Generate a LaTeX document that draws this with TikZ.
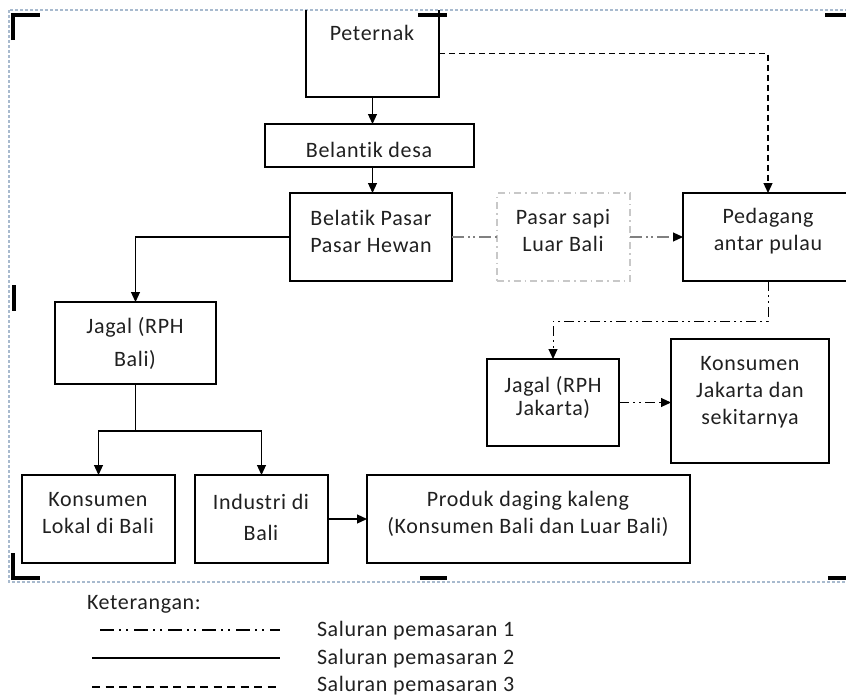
\documentclass[tikz,border=0pt]{standalone}
\usepackage{fontspec}
\setmainfont{Carlito}[LetterSpace=3, Ligatures=NoCommon]
\usetikzlibrary{arrows.meta}
\definecolor{framec}{HTML}{A8BACE}
\definecolor{greyline}{HTML}{808080}
\definecolor{lightbox}{HTML}{C8C8C8}
\definecolor{txt}{HTML}{202020}
\begin{document}
\begin{tikzpicture}[x=1pt,y=-1pt,
  every node/.style={inner sep=0pt, outer sep=0pt},
  boxnode/.style={draw, line width=1.2pt, anchor=north west},
  emptybox/.style={anchor=north west},
  lbl/.style={align=center, text=txt, font=\fontsize{22}{27}\selectfont},
  conn/.style={line width=1.2pt},
  arr/.style={conn, -{Triangle[length=10pt,width=9pt]}},
  chone/.style={dash pattern=on 10pt off 4pt on 2pt off 4pt on 2pt off 4pt},
  chthree/.style={dash pattern=on 6pt off 4pt},
  greydash/.style={draw=greyline, line width=2.4pt, dash pattern=on 12pt off 4pt on 2pt off 3pt on 2pt off 4pt},
  cornermark/.style={line width=4pt},
]
\useasboundingbox (0,0) rectangle (846,696);

% canvas frame and its corner marks
\draw[framec, line width=1.2pt, dash pattern=on 3pt off 2pt] (9,10) rectangle (849,582);
\draw[cornermark] (13,40) -- (13,15) -- (40,15);
\draw[cornermark] (418,15) -- (447,15);
\draw[cornermark] (825,15) -- (852,15);
\draw[cornermark] (14,285) -- (14,311);
\draw[cornermark] (13,553) -- (13,578) -- (40,578);
\draw[cornermark] (420,578) -- (447,578);
\draw[cornermark] (828,578) -- (852,578);

% boxes
\node[emptybox, minimum width=133pt, minimum height=87pt] (peternak) at (306,10) {};
\draw[line width=1.2pt] (peternak.north west) |- (peternak.south east) -- (peternak.north east);
\node[boxnode, minimum width=209pt, minimum height=43pt] (belantik) at (265,124) {};
\node[boxnode, minimum width=162pt, minimum height=88pt] (belatik) at (290,193) {};
\node[anchor=north west, draw=lightbox, line width=1.2pt,
      dash pattern=on 7pt off 4pt on 1.5pt off 4pt,
      minimum width=133pt, minimum height=88pt] (pasarsapi) at (497,193) {};
\node[boxnode, minimum width=170pt, minimum height=88pt] (pedagang) at (683,193) {};
\node[boxnode, minimum width=161pt, minimum height=82pt] (jagalbali) at (55,302) {};
\node[boxnode, minimum width=132pt, minimum height=87pt] (jagaljkt) at (487,359) {};
\node[boxnode, minimum width=158pt, minimum height=124pt] (konsjkt) at (671,339) {};
\node[boxnode, minimum width=153pt, minimum height=88pt] (lokal) at (22,475) {};
\node[boxnode, minimum width=133pt, minimum height=88pt] (industri) at (195,475) {};
\node[boxnode, minimum width=323pt, minimum height=88pt] (produk) at (367,475) {};

% box texts
\node[lbl] (tpeternak) at (372,33) {Peternak};
\node[lbl] (tbelantik) at (369,150) {Belantik desa};
\node[lbl] (tbelatik) at (371,231) {Belatik Pasar\\Pasar Hewan};
\node[lbl] (tpasarsapi) at (563,231) {Pasar sapi\\Luar Bali};
\node[lbl] (tpedagang) at (768,231) {Pedagang\\antar pulau};
\node[lbl] (tjagalbali) at (135,343) {Jagal (RPH\\[6pt]Bali)};
\node[lbl] (tjagaljkt) at (553,397) {Jagal (RPH\\[-4pt]Jakarta)};
\node[lbl] (tkonsjkt) at (750,392) {Konsumen\\Jakarta dan\\sekitarnya};
\node[lbl] (tlokal) at (98,513) {Konsumen\\Lokal di Bali};
\node[lbl] (tindustri) at (261,517) {Industri di\\[4pt]Bali};
\node[lbl] (tproduk) at (528,514) {Produk daging kaleng\\(Konsumen Bali dan Luar Bali)};

% channel 2 (solid)
\draw[arr] (peternak.south) -- (peternak.south |- belantik.north);
\draw[arr] (belantik.south -| peternak.south) -- (belatik.north -| peternak.south);
\draw[arr] (belatik.west) -| (jagalbali.north);
\coordinate (split) at (135.5,431);
\draw[conn] (jagalbali.south) -- (split);
\draw[arr] (split) -| (lokal.north);
\draw[arr] (split) -| (industri.north);
\draw[arr] (industri.east) -- (industri.east -| produk.west);

% channel 3 (dashed)
\draw[arr, chthree] (peternak.east) -| (pedagang.north);

% channel 1 (dash-dot)
\draw[greydash] (belatik.east) -- (pasarsapi.west);
\draw[greydash] (pasarsapi.east) -- ([xshift=-9pt]pedagang.west);
\draw[arr] ([xshift=-10pt]pedagang.west) -- (pedagang.west);
\draw[arr, chone, line width=1pt] (pedagang.south) -- ++(0,40) -| (jagaljkt.north);
\draw[arr, chone, line width=1pt] (jagaljkt.east) -- (jagaljkt.east -| konsjkt.west);

% legend
\node[lbl, anchor=west] (ket) at (87,604) {Keterangan:};
\coordinate (la1) at (100,630); \coordinate (lb1) at (280,630);
\coordinate (la2) at (92,658);  \coordinate (lb2) at (280,658);
\coordinate (la3) at (92,687);  \coordinate (lb3) at (280,687);
\draw[conn, dash pattern=on 14pt off 5pt on 2pt off 5pt on 2pt off 6pt] (la1) -- (lb1);
\draw[conn] (la2) -- (lb2);
\draw[conn, dash pattern=on 8pt off 5.5pt] (la3) -- (lb3);
\node[lbl, anchor=west] (s1) at (317,631) {Saluran pemasaran 1};
\node[lbl, anchor=west] (s2) at (317,659) {Saluran pemasaran 2};
\node[lbl, anchor=west] (s3) at (317,686) {Saluran pemasaran 3};
\end{tikzpicture}
\end{document}
